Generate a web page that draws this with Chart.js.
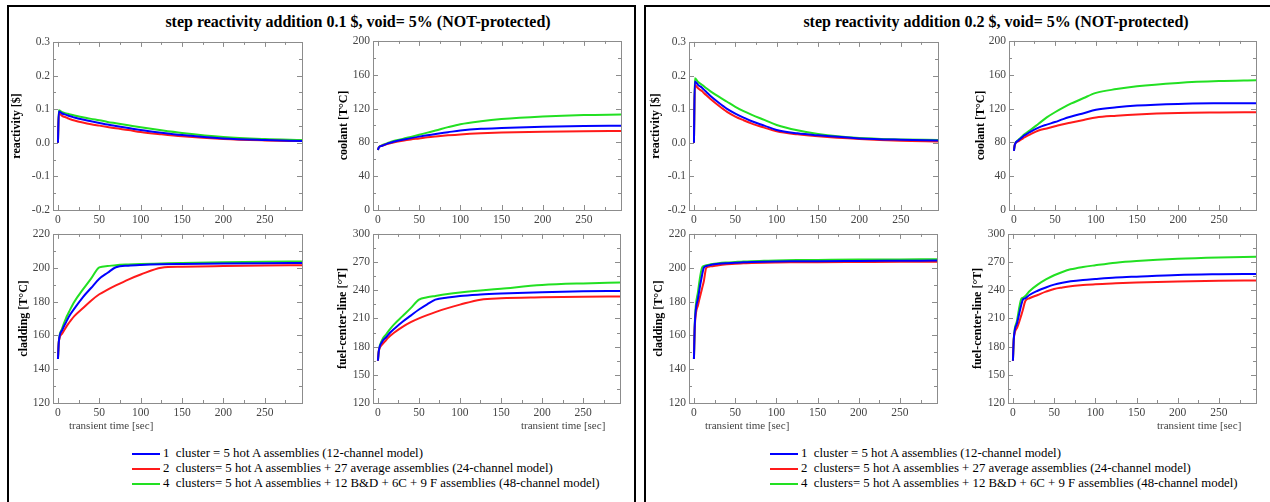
<!DOCTYPE html>
<html>
<head>
<meta charset="utf-8">
<script src="https://cdn.jsdelivr.net/npm/chart.js@4.4.1/dist/chart.umd.min.js"></script>
<style>
  body { margin: 0; width: 1270px; height: 502px; position: relative; overflow: hidden; background: #fff; font-family: "Liberation Serif", "Times New Roman", serif; }
  .panel { position: absolute; border: 2px solid #000; box-sizing: border-box; }
  .title { position: absolute; font-weight: bold; font-size: 16px; white-space: nowrap; transform: translateX(-50%); }
  .xt { position: absolute; font-size: 11px; color: #444; white-space: nowrap; }
  .legend { position: absolute; font-size: 12.8px; line-height: 15px; white-space: pre; }
  .legend span { display: inline-block; width: 28px; height: 2px; vertical-align: middle; margin-right: 3px; }
  canvas { position: absolute; }
</style>
</head>
<body>
<div class="panel" style="left:7px;top:5px;width:629px;height:520px"></div>
<div class="panel" style="left:644px;top:5px;width:640px;height:520px"></div>
<div class="title" style="left:358px;top:13px">step reactivity addition 0.1 $, void= 5% (NOT-protected)</div>
<div class="title" style="left:996px;top:13px">step reactivity addition 0.2 $, void= 5% (NOT-protected)</div>

<script>
// time grid [sec]
const T = [0, 1, 5, 10, 12, 15, 20, 30, 40, 50, 60, 70, 85, 100, 125, 150, 200, 250, 295];

const SERIES = [
  '1  cluster = 5 hot A assemblies (12-channel model)',
  '2  clusters= 5 hot A assemblies + 27 average assemblies (24-channel model)',
  '4  clusters= 5 hot A assemblies + 12 B&D + 6C + 9 F assemblies (48-channel model)'
];
const COLORS = ['#0000ff', '#ff1a1a', '#22e022'];

const X_TICKS = [0, 50, 100, 150, 200, 250];
const RHO_TICKS = [-0.2, -0.1, 0, 0.1, 0.2, 0.3];
const COOL_TICKS = [0, 40, 80, 120, 160, 200];
const CLAD_TICKS = [120, 140, 160, 180, 200, 220];
const FUEL_TICKS = [120, 150, 180, 210, 240, 270, 300];

// 0.1 $ step
const rho01_1 = [0, 0.093, 0.087, 0.083, 0.081, 0.079, 0.075, 0.069, 0.064, 0.059, 0.054, 0.050, 0.044, 0.038, 0.030, 0.023, 0.013, 0.008, 0.005];
const rho01_2 = [0, 0.088, 0.080, 0.075, 0.073, 0.070, 0.066, 0.060, 0.055, 0.051, 0.047, 0.043, 0.038, 0.032, 0.025, 0.019, 0.011, 0.007, 0.005];
const rho01_4 = [0, 0.097, 0.091, 0.087, 0.086, 0.084, 0.081, 0.076, 0.071, 0.067, 0.062, 0.058, 0.052, 0.046, 0.037, 0.029, 0.017, 0.011, 0.008];

const cool01_1 = [71, 74, 76, 78, 78.8, 79.5, 81, 83, 85, 86.8, 88.5, 90, 92, 94, 96, 97, 98.5, 99.3, 99.6];
const cool01_2 = [71, 74, 76, 77.8, 78.4, 79, 80.2, 82, 83.5, 84.7, 86, 87, 88.3, 89.4, 90.7, 91.6, 92.6, 93.2, 93.5];
const cool01_4 = [71, 74, 76.5, 78.5, 79.4, 80.3, 82, 84, 86.5, 89, 91.5, 94, 98, 101.5, 105, 107.5, 110.5, 112.3, 113];

const clad01_1 = [146, 156, 163, 168, 170, 172.5, 176, 182.5, 188, 193.5, 197, 200.3, 201.2, 201.6, 202, 202.2, 202.5, 202.7, 202.8];
const clad01_2 = [146, 156, 161, 165, 166.5, 168.5, 171.5, 176, 180.5, 184.3, 187, 189.5, 193, 196, 200, 200.6, 201, 201.3, 201.5];
const clad01_4 = [146, 156, 164, 170.5, 172.5, 175.5, 180, 187, 193.5, 200.2, 201, 201.5, 201.9, 202.2, 202.5, 202.8, 203.2, 203.5, 203.7];

const fuel01_1 = [165, 175, 185, 190, 192, 195, 199, 206.5, 213, 219.5, 225, 230, 232.3, 234, 235.5, 236.5, 238, 239, 239.3];
const fuel01_2 = [165, 175, 182, 187, 189, 191.5, 195, 201, 206, 210, 213.5, 216.7, 221, 224.7, 230, 231.5, 232.5, 233.2, 233.4];
const fuel01_4 = [165, 175, 187, 193, 195.5, 199, 204, 212.5, 221, 230, 232.5, 234, 236, 237.6, 239.8, 241.7, 245.5, 247.3, 248.3];

// 0.2 $ step
const rho02_1 = [0, 0.182, 0.172, 0.163, 0.158, 0.151, 0.139, 0.119, 0.101, 0.087, 0.075, 0.064, 0.051, 0.038, 0.028, 0.022, 0.013, 0.009, 0.007];
const rho02_2 = [0, 0.172, 0.162, 0.153, 0.148, 0.141, 0.130, 0.110, 0.092, 0.078, 0.067, 0.057, 0.045, 0.034, 0.025, 0.019, 0.011, 0.006, 0.004];
const rho02_4 = [0, 0.192, 0.181, 0.172, 0.168, 0.162, 0.153, 0.137, 0.122, 0.107, 0.094, 0.083, 0.068, 0.053, 0.037, 0.026, 0.014, 0.010, 0.008];

const cool02_1 = [70, 77, 82, 86, 87.8, 89.5, 92.5, 97.5, 101, 104, 107.5, 110.5, 114.5, 118.5, 121.5, 123.5, 125.5, 126.2, 126.4];
const cool02_2 = [70, 77, 81, 84, 85.5, 87, 89.5, 94, 96.5, 99, 101.5, 103.5, 106.5, 109.5, 111.5, 113, 114.7, 115.3, 115.6];
const cool02_4 = [70, 77, 82.5, 87, 89, 91, 94.5, 102, 109.5, 115.6, 121, 126, 132.5, 138.5, 143, 146.4, 150.3, 152.5, 153.4];

const clad02_1 = [146, 166, 182, 196, 200, 201, 201.6, 202.3, 202.7, 203, 203.2, 203.4, 203.6, 203.7, 203.8, 203.9, 204, 204.1, 204.2];
const clad02_2 = [146, 165, 178, 188, 192, 200, 200.8, 201.5, 202, 202.4, 202.6, 202.8, 203, 203.1, 203.2, 203.3, 203.4, 203.5, 203.5];
const clad02_4 = [146, 167, 186, 200.2, 201, 201.5, 202, 202.7, 203.1, 203.4, 203.7, 203.9, 204.1, 204.3, 204.5, 204.6, 204.8, 204.9, 205];

const fuel02_1 = [165, 188, 205, 224, 230, 231.5, 235, 239.5, 243, 246, 248, 249.5, 251, 252, 253.5, 254.5, 256.3, 257, 257.3];
const fuel02_2 = [165, 188, 200, 213, 219, 228.5, 231.5, 235, 238.5, 241.4, 243, 244.3, 245.5, 246.5, 247.5, 248.3, 249.4, 250.1, 250.4];
const fuel02_4 = [165, 188, 208, 230.6, 232, 234, 239, 246, 251.5, 256, 259.5, 262.3, 264.8, 266.6, 269.3, 271.1, 273.6, 275, 275.7];

const SERIF = '"Liberation Serif", "Times New Roman", serif';

// gray frame box with inward ticks, Mathematica style
const framePlugin = {
  id: 'frame',
  beforeDatasetsDraw(chart) {
    const { ctx, chartArea: a, scales: { x, y } } = chart;
    ctx.save();
    ctx.strokeStyle = '#8c8c8c';
    ctx.lineWidth = 1;
    ctx.strokeRect(Math.round(a.left) + 0.5, Math.round(a.top) + 0.5, Math.round(a.right - a.left), Math.round(a.bottom - a.top));
    const minors = (vals, max) => {
      const out = [];
      for (let i = 0; i < vals.length; i++) {
        const nxt = i + 1 < vals.length ? vals[i + 1] : vals[i] + (vals[1] - vals[0]);
        const m = (vals[i] + nxt) / 2;
        if (m < max) out.push(m);
      }
      return out;
    };
    const xv = x.ticks.map(t => t.value), yv = y.ticks.map(t => t.value);
    ctx.beginPath();
    const xt = (v, len) => {
      const p = Math.round(x.getPixelForValue(v)) + 0.5;
      ctx.moveTo(p, a.bottom); ctx.lineTo(p, a.bottom - len);
      ctx.moveTo(p, a.top); ctx.lineTo(p, a.top + len);
    };
    const yt = (v, len) => {
      const p = Math.round(y.getPixelForValue(v)) + 0.5;
      ctx.moveTo(a.left, p); ctx.lineTo(a.left + len, p);
      ctx.moveTo(a.right, p); ctx.lineTo(a.right - len, p);
    };
    xv.forEach(v => xt(v, 5));
    minors(xv, x.max).forEach(v => xt(v, 3));
    yv.forEach(v => yt(v, 5));
    minors(yv, y.max).forEach(v => yt(v, 3));
    ctx.stroke();
    ctx.restore();
  }
};

function addPlot(box, W, yTicks, decimals, yTitle, cols) {
  const cv = document.createElement('canvas');
  const w = box.r - box.l + W + 8;
  const h = box.b - box.t + 6 + 20;
  cv.width = w; cv.height = h;
  cv.style.left = (box.l - W) + 'px';
  cv.style.top = (box.t - 6) + 'px';
  document.body.appendChild(cv);

  new Chart(cv.getContext('2d'), {
    type: 'line',
    data: {
      datasets: cols.map((vals, i) => ({
        label: SERIES[i],
        data: T.map((t, k) => ({ x: t, y: vals[k] })),
        borderColor: COLORS[i],
        borderWidth: 2,
        pointRadius: 0,
        fill: false,
        cubicInterpolationMode: 'monotone'
      }))
    },
    options: {
      responsive: false,
      animation: false,
      layout: { padding: { top: 6, right: 8, left: 0, bottom: 0 } },
      plugins: { legend: { display: false }, tooltip: { enabled: false } },
      scales: {
        x: {
          type: 'linear', min: -6, max: 295,
          grid: { display: false, drawTicks: false }, border: { display: false },
          afterBuildTicks: s => { s.ticks = X_TICKS.map(v => ({ value: v })); },
          afterFit: s => { s.height = 20; },
          ticks: { padding: 3, color: '#444', font: { family: SERIF, size: 11.5 }, maxRotation: 0 }
        },
        y: {
          type: 'linear', min: yTicks[0], max: yTicks[yTicks.length - 1],
          grid: { display: false, drawTicks: false }, border: { display: false },
          afterBuildTicks: s => { s.ticks = yTicks.map(v => ({ value: v })); },
          afterFit: s => { s.width = W; },
          ticks: { padding: 3, color: '#444', font: { family: SERIF, size: 11.5 },
                   callback: v => Number(v).toFixed(decimals) },
          title: { display: true, text: yTitle, color: '#000', padding: 0,
                   font: { family: SERIF, size: 12, weight: 'bold' } }
        }
      }
    },
    plugins: [framePlugin]
  });
}

// 0.1 $ panel
addPlot({ l: 53, t: 38, r: 302, b: 210 }, 43, RHO_TICKS, 1, 'reactivity [$]', [rho01_1, rho01_2, rho01_4]);
addPlot({ l: 373, t: 37, r: 621, b: 210 }, 36, COOL_TICKS, 0, 'coolant [T°C]', [cool01_1, cool01_2, cool01_4]);
addPlot({ l: 53, t: 230, r: 302, b: 403 }, 36, CLAD_TICKS, 0, 'cladding [T°C]', [clad01_1, clad01_2, clad01_4]);
addPlot({ l: 373, t: 230, r: 620, b: 403 }, 37, FUEL_TICKS, 0, 'fuel-center-line [°T]', [fuel01_1, fuel01_2, fuel01_4]);

// 0.2 $ panel
addPlot({ l: 689, t: 38, r: 938, b: 210 }, 40, RHO_TICKS, 1, 'reactivity [$]', [rho02_1, rho02_2, rho02_4]);
addPlot({ l: 1009, t: 37, r: 1256, b: 210 }, 35, COOL_TICKS, 0, 'coolant [T°C]', [cool02_1, cool02_2, cool02_4]);
addPlot({ l: 689, t: 230, r: 937, b: 403 }, 37, CLAD_TICKS, 0, 'cladding [T°C]', [clad02_1, clad02_2, clad02_4]);
addPlot({ l: 1008, t: 230, r: 1256, b: 403 }, 37, FUEL_TICKS, 0, 'fuel-center-line [°T]', [fuel02_1, fuel02_2, fuel02_4]);

// x-axis titles
[[69, 419], [521, 419], [705, 419], [1157, 419]].forEach(([l, t]) => {
  const d = document.createElement('div');
  d.className = 'xt';
  d.style.left = l + 'px'; d.style.top = t + 'px';
  d.textContent = 'transient time [sec]';
  document.body.appendChild(d);
});

// legends
[[132, 446], [770, 446]].forEach(([l, t]) => {
  const d = document.createElement('div');
  d.className = 'legend';
  d.style.left = l + 'px'; d.style.top = t + 'px';
  SERIES.forEach((s, i) => {
    const row = document.createElement('div');
    const sw = document.createElement('span');
    sw.style.background = COLORS[i];
    row.appendChild(sw);
    row.appendChild(document.createTextNode(s));
    d.appendChild(row);
  });
  document.body.appendChild(d);
});
</script>
</body>
</html>
